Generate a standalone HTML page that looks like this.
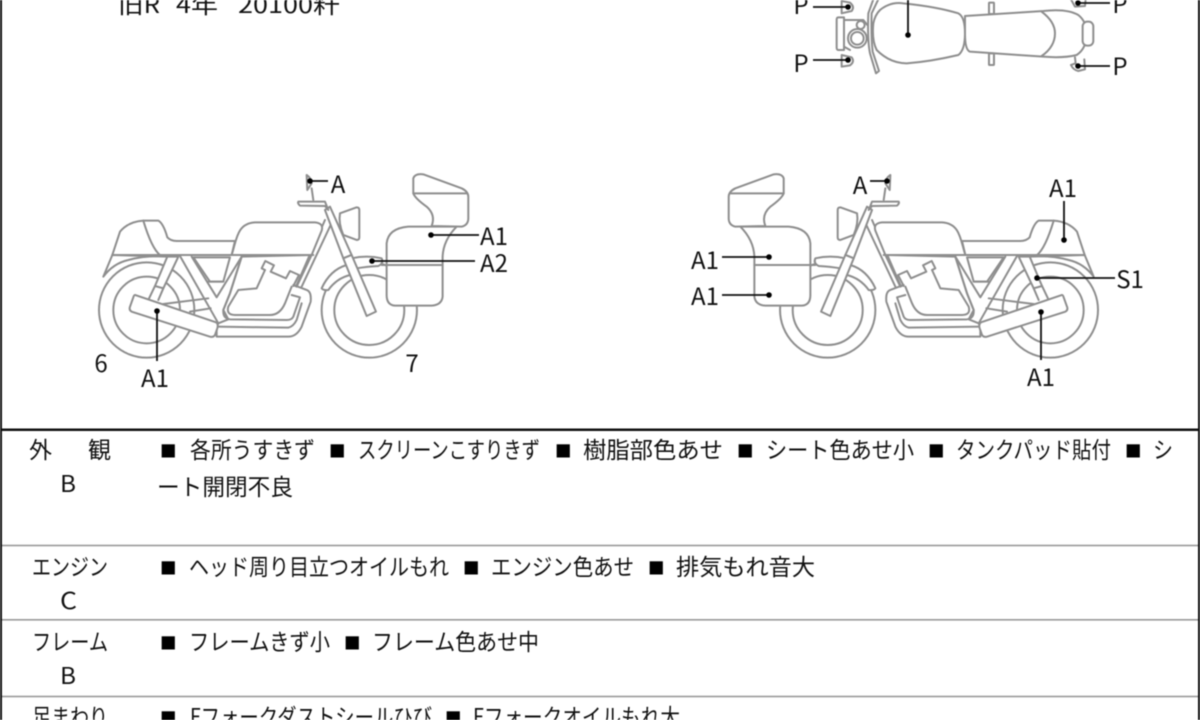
<!DOCTYPE html>
<html lang="ja"><head><meta charset="utf-8"><title>車両状態図</title>
<style>
html,body{margin:0;padding:0;background:#fff;width:1200px;height:720px;overflow:hidden}
svg{display:block;filter:blur(.4px)}
text{font-family:"Liberation Sans","Noto Sans CJK JP",sans-serif;font-size:22px;fill:#111}
.l{font-family:"Noto Sans CJK JP","Liberation Sans",sans-serif;font-size:24px;font-weight:400;text-anchor:middle;fill:#111}
.j{font-family:"Noto Sans CJK JP","Liberation Sans",sans-serif;font-size:23px;font-weight:400}
.s{font-size:16.500px;fill:#000;font-family:"Noto Sans CJK JP",sans-serif}
.b path,.b circle,.b rect{fill:none;stroke:#8e8e8e;stroke-width:6;stroke-linecap:round;stroke-linejoin:round}
.b .w{fill:#fff}
.c{stroke:#111;stroke-width:1.800;fill:none}
.d{fill:#000}
</style></head><body>
<svg width="1200" height="720" viewBox="0 0 1200 720" xmlns="http://www.w3.org/2000/svg">
<defs>
<g id="bike" class="b">
  <circle class="w" cx="200" cy="450" r="143"/><circle cx="200" cy="450" r="100"/>
  <circle class="w" cx="868" cy="450" r="143"/><circle cx="868" cy="450" r="105"/>
  <path class="w" d="M97 285L70 350Q100 310 145 300Q200 285 260 290L97 285Z"/>
  <path class="w" d="M340 292L390 365L430 365L450 292Z"/>
  <path d="M385 365L430 365"/>
  <path class="w" d="M262 290L225 378L250 385L295 290Z"/>
  <path d="M225 378L205 420M250 385L235 420"/>
  <path d="M300 288L415 490M335 290L410 412L485 290"/>
  <path d="M250 432L385 415M330 455L392 445"/>
  <path class="w" d="M640 375L680 390Q695 395 692 425L665 500Q650 530 625 530L410 530L410 500L415 490L445 478L430 450L450 400L485 290L695 285L650 380Z"/>
  <path d="M410 500L625 503Q640 500 650 480L665 430"/>
  <path d="M635 405L660 412L640 470Q635 480 620 480L450 478Q428 475 430 450L450 400L485 290"/>
  <path d="M555 330L530 385L475 390L445 440Q438 465 465 465L570 465Q600 465 615 430L635 380"/>
  <path d="M555 330L545 325L556 303L582 316L572 335L618 355L630 333L657 345L640 378"/>
  <path d="M665 380L752 195M650 375L735 180"/>
  <path class="w" d="M165 405L408 487Q416 492 412 505L405 525Q400 533 390 530L155 455Q146 450 150 440L160 412Q162 405 165 405Z"/>
  <path class="w" d="M97 285L120 215Q145 185 190 182L235 182Q250 190 262 232Q272 243 290 243L465 243L455 285Z"/>
  <path d="M190 182Q215 265 240 285"/>
  <path d="M97 285L700 285"/>
  <path class="w" d="M455 285C470 240 470 190 525 187L705 187Q732 190 725 212L695 285Z"/>
  <path class="w" d="M780 160L830 142Q838 142 838 150L838 232Q838 240 830 240L790 225Q775 190 780 160Z"/>
  <path class="w" d="M725 385Q750 330 800 315L815 295Q860 285 905 295Q912 310 895 318Q860 320 830 325L810 345Q770 355 745 390Q730 392 725 385Z"/>
  <path class="w" d="M735 150L790 295L815 285L750 140Z"/>
  <path class="w" d="M790 295L815 285L888 455L860 468Z"/>
  <path class="w" d="M655 125L735 125L745 150L735 138L660 137Q652 130 655 125Z"/>
  <path d="M680 45Q695 55 695 70L682 90ZM695 85L700 120"/>
  <path class="w" d="M920 250Q925 205 985 200L1130 200Q1090 240 1088 290L1088 410Q1085 435 1055 437L945 437Q920 435 920 405Z"/>
  <path d="M905 315L1088 315"/>
  <path class="w" d="M1000 95L1000 55Q1005 40 1030 43L1145 85Q1165 95 1165 110L1165 175Q1165 195 1145 200L1055 198Q1068 165 1040 140Q1005 115 1000 100Z"/>
  <path d="M1000 100L1160 100"/>
</g>
</defs>

<rect width="1200" height="720" fill="#fff"/>
<text class="j" x="118" y="13" textLength="42" lengthAdjust="spacingAndGlyphs">旧R</text>
<text class="j" x="176" y="13" textLength="42" lengthAdjust="spacingAndGlyphs">4年</text>
<text class="j" x="238" y="13" textLength="102" lengthAdjust="spacingAndGlyphs">20100粁</text>

<!-- top view -->
<g class="b" transform="translate(770,0) scale(.3333)">
  <path d="M295 40Q292 120 300 160L318 220L327 213L308 155Q303 110 305 40L325 -2M295 40L310 -2"/>
  <path class="w" d="M330 30Q360 5 400 10Q500 20 565 40Q585 50 585 100Q585 150 565 165Q480 185 410 190Q360 190 320 150Q305 120 310 70Q315 45 330 30Z"/>
  <path class="w" d="M585 48L820 33Q890 25 925 45Q950 65 950 100Q950 145 920 165Q880 175 820 170L600 155Q585 150 585 100Z"/>
  <path d="M815 35Q855 65 855 100Q855 140 815 168"/>
  <rect class="w" x="938" y="65" width="32" height="72" rx="14"/>
  <rect x="657" y="8" width="15" height="34" rx="2"/><rect x="657" y="160" width="15" height="35" rx="2"/>
  <path d="M222 52L205 52Q200 52 200 60L200 142Q200 150 205 150L222 150ZM222 60L280 60L292 75M222 140L240 150"/>
  <circle cx="272" cy="75" r="12"/><circle class="w" cx="262" cy="115" r="28"/><circle cx="262" cy="115" r="19"/>
  <path d="M215 3L240 8Q255 20 245 33L215 40ZM215 165L245 172Q255 185 240 196L215 200Z"/>
  <path d="M903 -2L915 20L945 18L947 -2M915 172L917 190L903 195Q910 210 925 213L945 208L943 178"/>
</g>
<g class="c">
  <path d="M813 7H848M813 60H848M908 0V35M1078 3H1110M1078 66H1110"/>
</g>
<g class="d"><circle cx="908" cy="35" r="2.800"/><circle cx="848" cy="7" r="2.800"/><circle cx="848" cy="60" r="2.800"/><circle cx="1078" cy="3" r="2.800"/><circle cx="1078" cy="66" r="2.800"/></g>
<text class="l" x="801" y="14">P</text><text class="l" x="801" y="72">P</text>
<text class="l" x="1120" y="13">P</text><text class="l" x="1120" y="75">P</text>

<!-- left side bike -->
<use href="#bike" transform="translate(80,160) scale(.3333)"/>
<!-- right side bike (mirrored) -->
<use href="#bike" transform="translate(1197,0) scale(-1,1) translate(80,160) scale(.3333)"/>

<g class="c">
  <path d="M310 181H328M431 235H479M372 261H475M157 311V361"/>
  <path d="M870 181H887M1064 201V240M1037 278H1115M1041 312V360M722 257H769M722 295H769"/>
</g>
<g class="d">
  <circle cx="310" cy="181" r="2.800"/><circle cx="431" cy="235" r="2.800"/><circle cx="372" cy="261" r="2.800"/><circle cx="157" cy="311" r="2.800"/>
  <circle cx="887" cy="181" r="2.800"/><circle cx="1064" cy="240" r="2.800"/><circle cx="1037" cy="278" r="2.800"/><circle cx="1041" cy="312" r="2.800"/><circle cx="769" cy="257" r="2.800"/><circle cx="769" cy="295" r="2.800"/>
</g>
<text class="l" x="338" y="193">A</text>
<text class="l" x="494" y="245">A1</text>
<text class="l" x="494" y="272">A2</text>
<text class="l" x="155" y="387">A1</text>
<text class="l" x="101" y="372">6</text>
<text class="l" x="412" y="372">7</text>
<text class="l" x="860" y="194">A</text>
<text class="l" x="1063" y="197">A1</text>
<text class="l" x="1130" y="288">S1</text>
<text class="l" x="1041" y="386">A1</text>
<text class="l" x="705" y="269">A1</text>
<text class="l" x="705" y="305">A1</text>

<!-- table frame -->
<rect x="0" y="0" width="2" height="720" fill="#111"/>
<rect x="1198" y="0" width="2" height="720" fill="#111"/>
<rect x="0" y="428.500" width="1200" height="2.500" fill="#111"/>
<rect x="2" y="544.700" width="1196" height="1.600" fill="#999"/>
<rect x="2" y="619" width="1196" height="1.600" fill="#999"/>
<rect x="2" y="695.700" width="1196" height="1.600" fill="#999"/>

<!-- row 1 -->
<text class="j" x="29" y="458">外</text><text class="j" x="88" y="458">観</text>
<text class="j" x="60" y="492" textLength="16" lengthAdjust="spacingAndGlyphs">B</text>
<text class="s" x="160" y="457">■</text>
<text class="j" x="190" y="458" textLength="125" lengthAdjust="spacingAndGlyphs">各所うすきず</text>
<text class="s" x="329" y="457">■</text>
<text class="j" x="358" y="458" textLength="182" lengthAdjust="spacingAndGlyphs">スクリーンこすりきず</text>
<text class="s" x="555" y="457">■</text>
<text class="j" x="583" y="458" textLength="140" lengthAdjust="spacingAndGlyphs">樹脂部色あせ</text>
<text class="s" x="737" y="457">■</text>
<text class="j" x="766" y="458" textLength="148" lengthAdjust="spacingAndGlyphs">シート色あせ小</text>
<text class="s" x="928" y="457">■</text>
<text class="j" x="956" y="458" textLength="155" lengthAdjust="spacingAndGlyphs">タンクパッド貼付</text>
<text class="s" x="1125" y="457">■</text>
<text class="j" x="1153" y="458" textLength="20" lengthAdjust="spacingAndGlyphs">シ</text>
<text class="j" x="157" y="495" textLength="136" lengthAdjust="spacingAndGlyphs">ート開閉不良</text>

<!-- row 2 -->
<text class="j" x="32" y="575" textLength="76" lengthAdjust="spacingAndGlyphs">エンジン</text>
<text class="j" x="60" y="609" textLength="17" lengthAdjust="spacingAndGlyphs">C</text>
<text class="s" x="160" y="574">■</text>
<text class="j" x="189" y="575" textLength="260" lengthAdjust="spacingAndGlyphs">ヘッド周り目立つオイルもれ</text>
<text class="s" x="463" y="574">■</text>
<text class="j" x="491" y="575" textLength="143" lengthAdjust="spacingAndGlyphs">エンジン色あせ</text>
<text class="s" x="648" y="574">■</text>
<text class="j" x="676" y="575" textLength="139" lengthAdjust="spacingAndGlyphs">排気もれ音大</text>

<!-- row 3 -->
<text class="j" x="32" y="650" textLength="76" lengthAdjust="spacingAndGlyphs">フレーム</text>
<text class="j" x="60" y="684" textLength="16" lengthAdjust="spacingAndGlyphs">B</text>
<text class="s" x="160" y="649">■</text>
<text class="j" x="189" y="650" textLength="141" lengthAdjust="spacingAndGlyphs">フレームきず小</text>
<text class="s" x="344" y="649">■</text>
<text class="j" x="372" y="650" textLength="167" lengthAdjust="spacingAndGlyphs">フレーム色あせ中</text>

<!-- row 4 -->
<text class="j" x="32" y="725" textLength="76" lengthAdjust="spacingAndGlyphs">足まわり</text>
<text class="s" x="160" y="724">■</text>
<text class="j" x="190" y="725" textLength="242" lengthAdjust="spacingAndGlyphs">Fフォークダストシールひび</text>
<text class="s" x="445" y="724">■</text>
<text class="j" x="473" y="725" textLength="207" lengthAdjust="spacingAndGlyphs">Fフォークオイルもれ大</text>
</svg>
</body></html>
